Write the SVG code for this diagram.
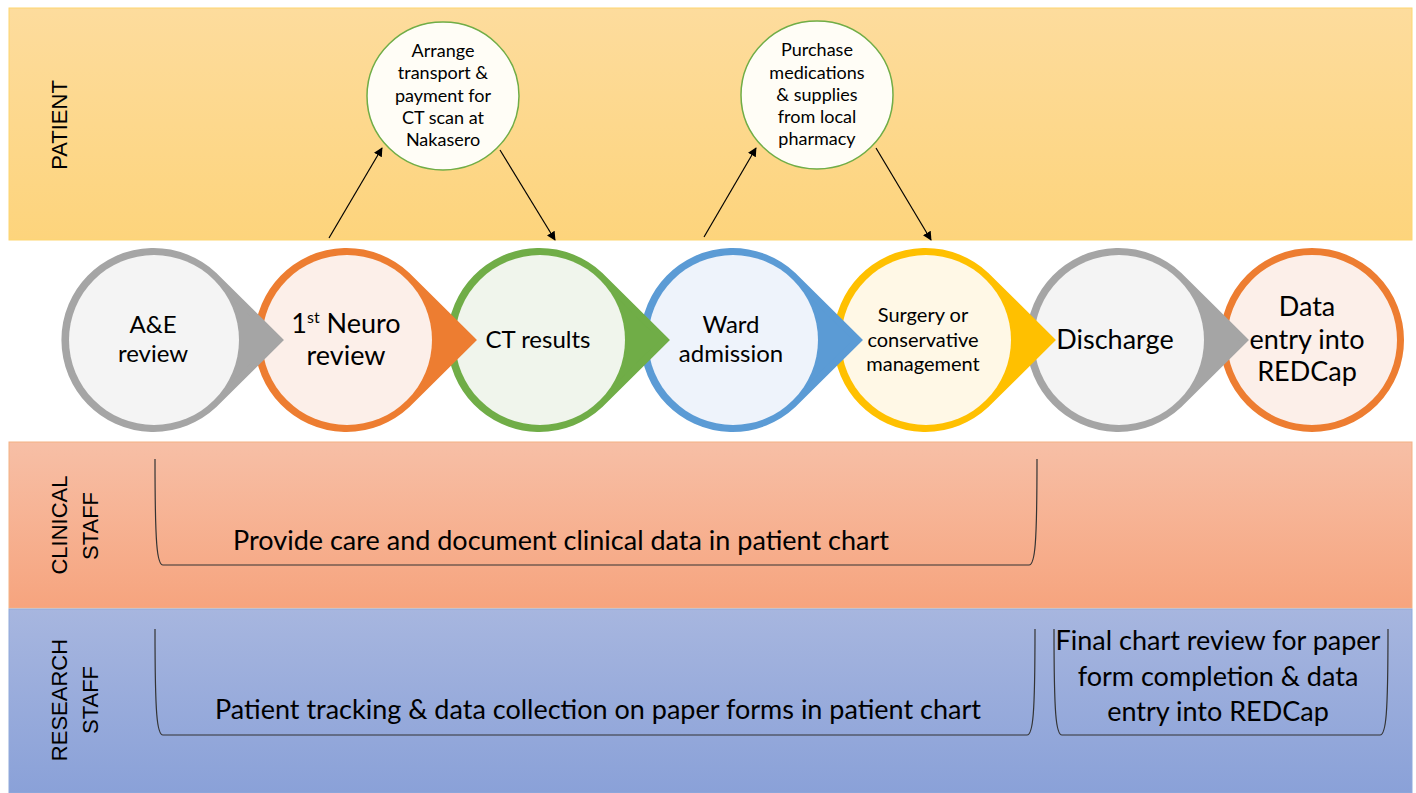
<svg xmlns="http://www.w3.org/2000/svg" width="1416" height="793" viewBox="0 0 1416 793">
<defs>
<linearGradient id="gP" x1="0" y1="0" x2="0" y2="1"><stop offset="0" stop-color="#fddc9d"/><stop offset="1" stop-color="#fdd47c"/></linearGradient>
<linearGradient id="gC" x1="0" y1="0" x2="0" y2="1"><stop offset="0" stop-color="#f7bfa6"/><stop offset="1" stop-color="#f6a47e"/></linearGradient>
<linearGradient id="gR" x1="0" y1="0" x2="0" y2="1"><stop offset="0" stop-color="#a7b6df"/><stop offset="1" stop-color="#8aa1d8"/></linearGradient>
<marker id="ah" viewBox="0 0 10 10" refX="9" refY="5" markerWidth="9" markerHeight="9" markerUnits="userSpaceOnUse" orient="auto"><path d="M0,0 L10,5 L0,10 Z" fill="#000"/></marker>
<path id="drop" d="M125,0 L59.7,-64.8 A88.5,88.5 0 1 0 59.7,64.8 Z"/>
</defs>
<style>
text{font-family:Lato,"Liberation Sans",sans-serif;fill:#000;}
.lab{font-family:"Liberation Sans",Arial,sans-serif;font-size:22px;}
.c24{font-size:24px;text-anchor:middle;}
.c27{font-size:27px;text-anchor:middle;}
.c20{font-size:20px;text-anchor:middle;}
.sm{font-size:18px;text-anchor:middle;}
.big{font-size:27px;text-anchor:middle;}
.br{fill:none;stroke:#333;stroke-width:1.2;}
.conn{stroke:#000;stroke-width:1.2;fill:none;marker-end:url(#ah);}
.bub{fill:#fffdf6;stroke:#70ad47;stroke-width:1.5;}
</style>

<g id="lanes">
<rect x="9" y="8" width="1403" height="232" fill="url(#gP)" stroke="#fdd670" stroke-width="1"/>
<rect x="9" y="442" width="1403" height="166" fill="url(#gC)" stroke="#f4b183" stroke-width="1"/>
<rect x="9" y="609" width="1403" height="184" fill="url(#gR)" stroke="#8faadc" stroke-width="1"/>
<text class="lab" transform="translate(67,125) rotate(-90)" text-anchor="middle">PATIENT</text>
<text class="lab" transform="translate(67,525) rotate(-90)" text-anchor="middle">CLINICAL</text>
<text class="lab" transform="translate(98,526) rotate(-90)" text-anchor="middle">STAFF</text>
<text class="lab" transform="translate(67,700) rotate(-90)" text-anchor="middle">RESEARCH</text>
<text class="lab" transform="translate(98,700) rotate(-90)" text-anchor="middle">STAFF</text>
</g>

<g id="node-data">
<circle cx="1312" cy="340" r="88.5" fill="#fcefe9" stroke="#ed7d31" stroke-width="7"/>
<text class="c27" x="1307" y="316">Data</text>
<text class="c27" x="1307" y="349">entry into</text>
<text class="c27" x="1307" y="381">REDCap</text>
</g>
<g id="node-discharge">
<use href="#drop" transform="translate(1119,340)" fill="#a5a5a5" stroke="#a5a5a5" stroke-width="7" stroke-linejoin="miter"/>
<circle cx="1119" cy="340" r="85" fill="#f4f4f4"/>
<text class="c27" x="1115" y="349">Discharge</text>
</g>
<g id="node-surgery">
<use href="#drop" transform="translate(926,340)" fill="#ffc000" stroke="#ffc000" stroke-width="7" stroke-linejoin="miter"/>
<circle cx="926" cy="340" r="85" fill="#fff8e6"/>
<text class="c20" x="923" y="322">Surgery or</text>
<text class="c20" x="923" y="347">conservative</text>
<text class="c20" x="923" y="371">management</text>
</g>
<g id="node-ward">
<use href="#drop" transform="translate(733,340)" fill="#5b9bd5" stroke="#5b9bd5" stroke-width="7" stroke-linejoin="miter"/>
<circle cx="733" cy="340" r="85" fill="#eef3fb"/>
<text class="c24" x="731" y="333">Ward</text>
<text class="c24" x="731" y="362">admission</text>
</g>
<g id="node-ct">
<use href="#drop" transform="translate(540,340)" fill="#70ad47" stroke="#70ad47" stroke-width="7" stroke-linejoin="miter"/>
<circle cx="540" cy="340" r="85" fill="#f0f5ec"/>
<text class="c24" x="538" y="348">CT results</text>
</g>
<g id="node-neuro">
<use href="#drop" transform="translate(347,340)" fill="#ed7d31" stroke="#ed7d31" stroke-width="7" stroke-linejoin="miter"/>
<circle cx="347" cy="340" r="85" fill="#fcefe9"/>
<text class="c27" x="346" y="333">1<tspan font-size="16" dy="-10">st</tspan><tspan dy="10"> Neuro</tspan></text>
<text class="c27" x="346" y="365">review</text>
</g>
<g id="node-ae">
<use href="#drop" transform="translate(154,340)" fill="#a5a5a5" stroke="#a5a5a5" stroke-width="7" stroke-linejoin="miter"/>
<circle cx="154" cy="340" r="85" fill="#f4f4f4"/>
<text class="c24" x="153" y="333">A&amp;E</text>
<text class="c24" x="153" y="362">review</text>
</g>

<g id="node-arrange">
<ellipse class="bub" cx="443" cy="96" rx="76" ry="74"/>
<text class="sm" x="443" y="57">Arrange</text>
<text class="sm" x="443" y="79">transport &amp;</text>
<text class="sm" x="443" y="102">payment for</text>
<text class="sm" x="443" y="124">CT scan at</text>
<text class="sm" x="443" y="146">Nakasero</text>
</g>
<g id="node-purchase">
<ellipse class="bub" cx="817" cy="95" rx="76" ry="74"/>
<text class="sm" x="817" y="56">Purchase</text>
<text class="sm" x="817" y="79">medications</text>
<text class="sm" x="817" y="101">&amp; supplies</text>
<text class="sm" x="817" y="123">from local</text>
<text class="sm" x="817" y="145">pharmacy</text>
</g>

<g id="connectors">
<line class="conn" x1="329" y1="238" x2="382" y2="148"/>
<line class="conn" x1="500" y1="150" x2="555" y2="240"/>
<line class="conn" x1="704" y1="237" x2="756" y2="148"/>
<line class="conn" x1="876" y1="148" x2="931" y2="240"/>
</g>

<g id="node-clinical-care">
<path class="br" d="M155,459 C155,545 157,565 163,565 L1029,565 C1035,565 1037,545 1037,459"/>
<text class="big" x="561" y="550">Provide care and document clinical data in patient chart</text>
</g>
<g id="node-research-tracking">
<path class="br" d="M155,629 C155,715 157,735 163,735 L1027,735 C1033,735 1035,715 1035,629"/>
<text class="big" x="598" y="719">Patient tracking &amp; data collection on paper forms in patient chart</text>
</g>
<g id="node-research-final">
<path class="br" d="M1054,629 C1054,715 1056,735 1062,735 L1380,735 C1386,735 1388,715 1388,629"/>
<text class="big" x="1218" y="650">Final chart review for paper</text>
<text class="big" x="1218" y="686">form completion &amp; data</text>
<text class="big" x="1218" y="721">entry into REDCap</text>
</g>
</svg>
